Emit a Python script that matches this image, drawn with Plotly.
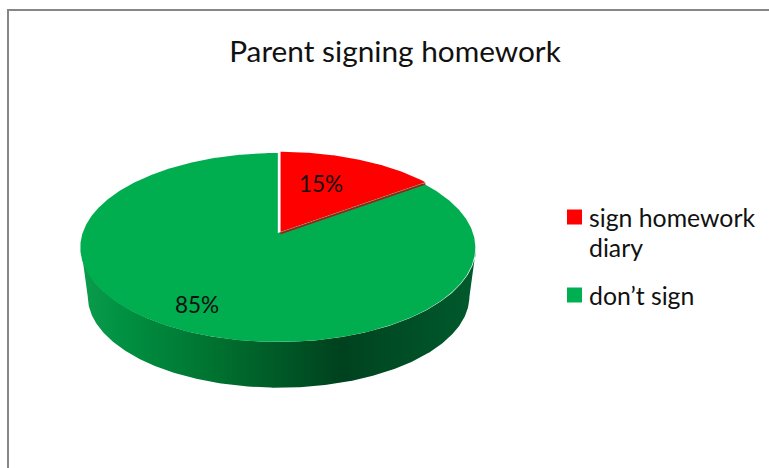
import numpy as np
import plotly.graph_objects as go

# ---- data ----
categories = ["sign homework<br>diary", "don’t sign"]
values = [15, 85]
colors = ["#FF0000", "#00AD4F"]
legend_colors = ["#FF0000", "#00B050"]
title_text = "Parent signing homework"

# ---- projection of the tilted disc (perspective) ----
PERSP = 0.1534
WIDTH, HEIGHT = 769, 468
CX, CY = 278.6, 233.0          # pixel position of the pie centre
SX, SY = 195.2, 92.3           # pixels per model unit
WALL_SCALE, WALL_DROP = 0.966, 0.535
TEXT = "#111111"


def project(theta_deg):
    t = np.radians(theta_deg)
    u, v = np.sin(t), np.cos(t)
    d = 1 + PERSP * v
    return u / d, v / d


fig = go.Figure()

# side wall
ts = np.linspace(0, 360, 721)
xr, yr = project(ts)
left_i, right_i = int(np.argmin(xr)), int(np.argmax(xr))
front = ts[right_i:left_i + 1]                 # right extreme -> bottom -> left extreme
fx, fy = project(front)
wall_x = np.concatenate([fx, (fx * WALL_SCALE)[::-1]])
wall_y = np.concatenate([fy, (fy * WALL_SCALE - WALL_DROP)[::-1]])
fig.add_trace(go.Scatter(
    x=wall_x, y=wall_y, mode="lines", line=dict(width=0), fill="toself",
    fillgradient=dict(type="horizontal", colorscale=[
        [0.0, "#0A9C4C"], [0.12, "#008F41"], [0.35, "#00702F"],
        [0.66, "#00411E"], [0.72, "#004722"], [1.0, "#005A2C"]]),
    hoverinfo="skip", showlegend=False))


def wedge_trace(start, stop, color, name, dx=0.0, dy=0.0):
    a = np.linspace(start, stop, max(2, int(abs(stop - start) * 2)))
    x, y = project(a)
    return go.Scatter(
        x=np.concatenate([[0], x, [0]]) + dx, y=np.concatenate([[0], y, [0]]) + dy,
        mode="lines", line=dict(width=0), fill="toself", fillcolor=color,
        name=name, hoverinfo="skip", showlegend=False)


total = sum(values)
red_end = values[0] / total * 360
# green slice first, red slice nudged out as in the original
fig.add_trace(wedge_trace(red_end, 360, colors[1], categories[1], dx=-0.004))
ex, ey = project(np.array([red_end]))
fig.add_trace(go.Scatter(x=[0.01, ex[0] + 0.01], y=[-0.006, ey[0] - 0.006], mode="lines",
                         line=dict(color="#A81818", width=1.5), hoverinfo="skip", showlegend=False))
fig.add_trace(wedge_trace(0, red_end, colors[0], categories[0], dx=0.01, dy=0.012))

# percent labels (model coordinates)
label_pos = [(0.215, 0.54), (-0.42, -0.77)]
annotations = [dict(x=x, y=y, xref="x", yref="y", text=f"{v}%", showarrow=False,
                    font=dict(family="Lato", size=22.5, color=TEXT))
               for (x, y), v in zip(label_pos, values)]

# legend drawn in the layout: the swatch sits on the first text line
legend_text_x = 589
legend_rows = [217, 295]
legend_line = 30
shapes = [
    dict(type="line", xref="paper", yref="paper", x0=8 / WIDTH, x1=8 / WIDTH, y0=0, y1=1 - 9 / HEIGHT,
         line=dict(color="#868686", width=2)),
    dict(type="line", xref="paper", yref="paper", x0=7 / WIDTH, x1=1, y0=1 - 10 / HEIGHT, y1=1 - 10 / HEIGHT,
         line=dict(color="#868686", width=2)),
]
for name, col, row in zip(categories, legend_colors, legend_rows):
    shapes.append(dict(type="rect", xref="paper", yref="paper", line=dict(width=0), fillcolor=col,
                       x0=567 / WIDTH, x1=582 / WIDTH,
                       y0=1 - (row + 7.5) / HEIGHT, y1=1 - (row - 7.5) / HEIGHT))
    for i, part in enumerate(name.split("<br>")):
        annotations.append(dict(xref="paper", yref="paper", x=legend_text_x / WIDTH, xanchor="left",
                                y=1 - (row + i * legend_line) / HEIGHT, yanchor="middle",
                                text=part, showarrow=False, xshift=-2,
                                font=dict(family="Lato", size=24.8, color=TEXT)))

fig.update_layout(
    width=WIDTH, height=HEIGHT, autosize=False,
    margin=dict(l=0, r=0, t=0, b=0),
    paper_bgcolor="white", plot_bgcolor="white",
    font=dict(family="Lato", color=TEXT),
    title=dict(text=title_text, font=dict(family="Lato", size=29.8, color=TEXT),
               x=395 / WIDTH, xanchor="center", y=1 - 52 / HEIGHT, yanchor="middle"),
    xaxis=dict(visible=False, fixedrange=True, range=[-CX / SX, (WIDTH - CX) / SX]),
    yaxis=dict(visible=False, fixedrange=True, range=[(CY - HEIGHT) / SY, CY / SY]),
    showlegend=False,
    annotations=annotations,
    shapes=shapes,
)

fig.write_html("out.html", config={"displayModeBar": False},
               post_script="document.body.style.margin='0';document.documentElement.style.overflow='hidden';")
